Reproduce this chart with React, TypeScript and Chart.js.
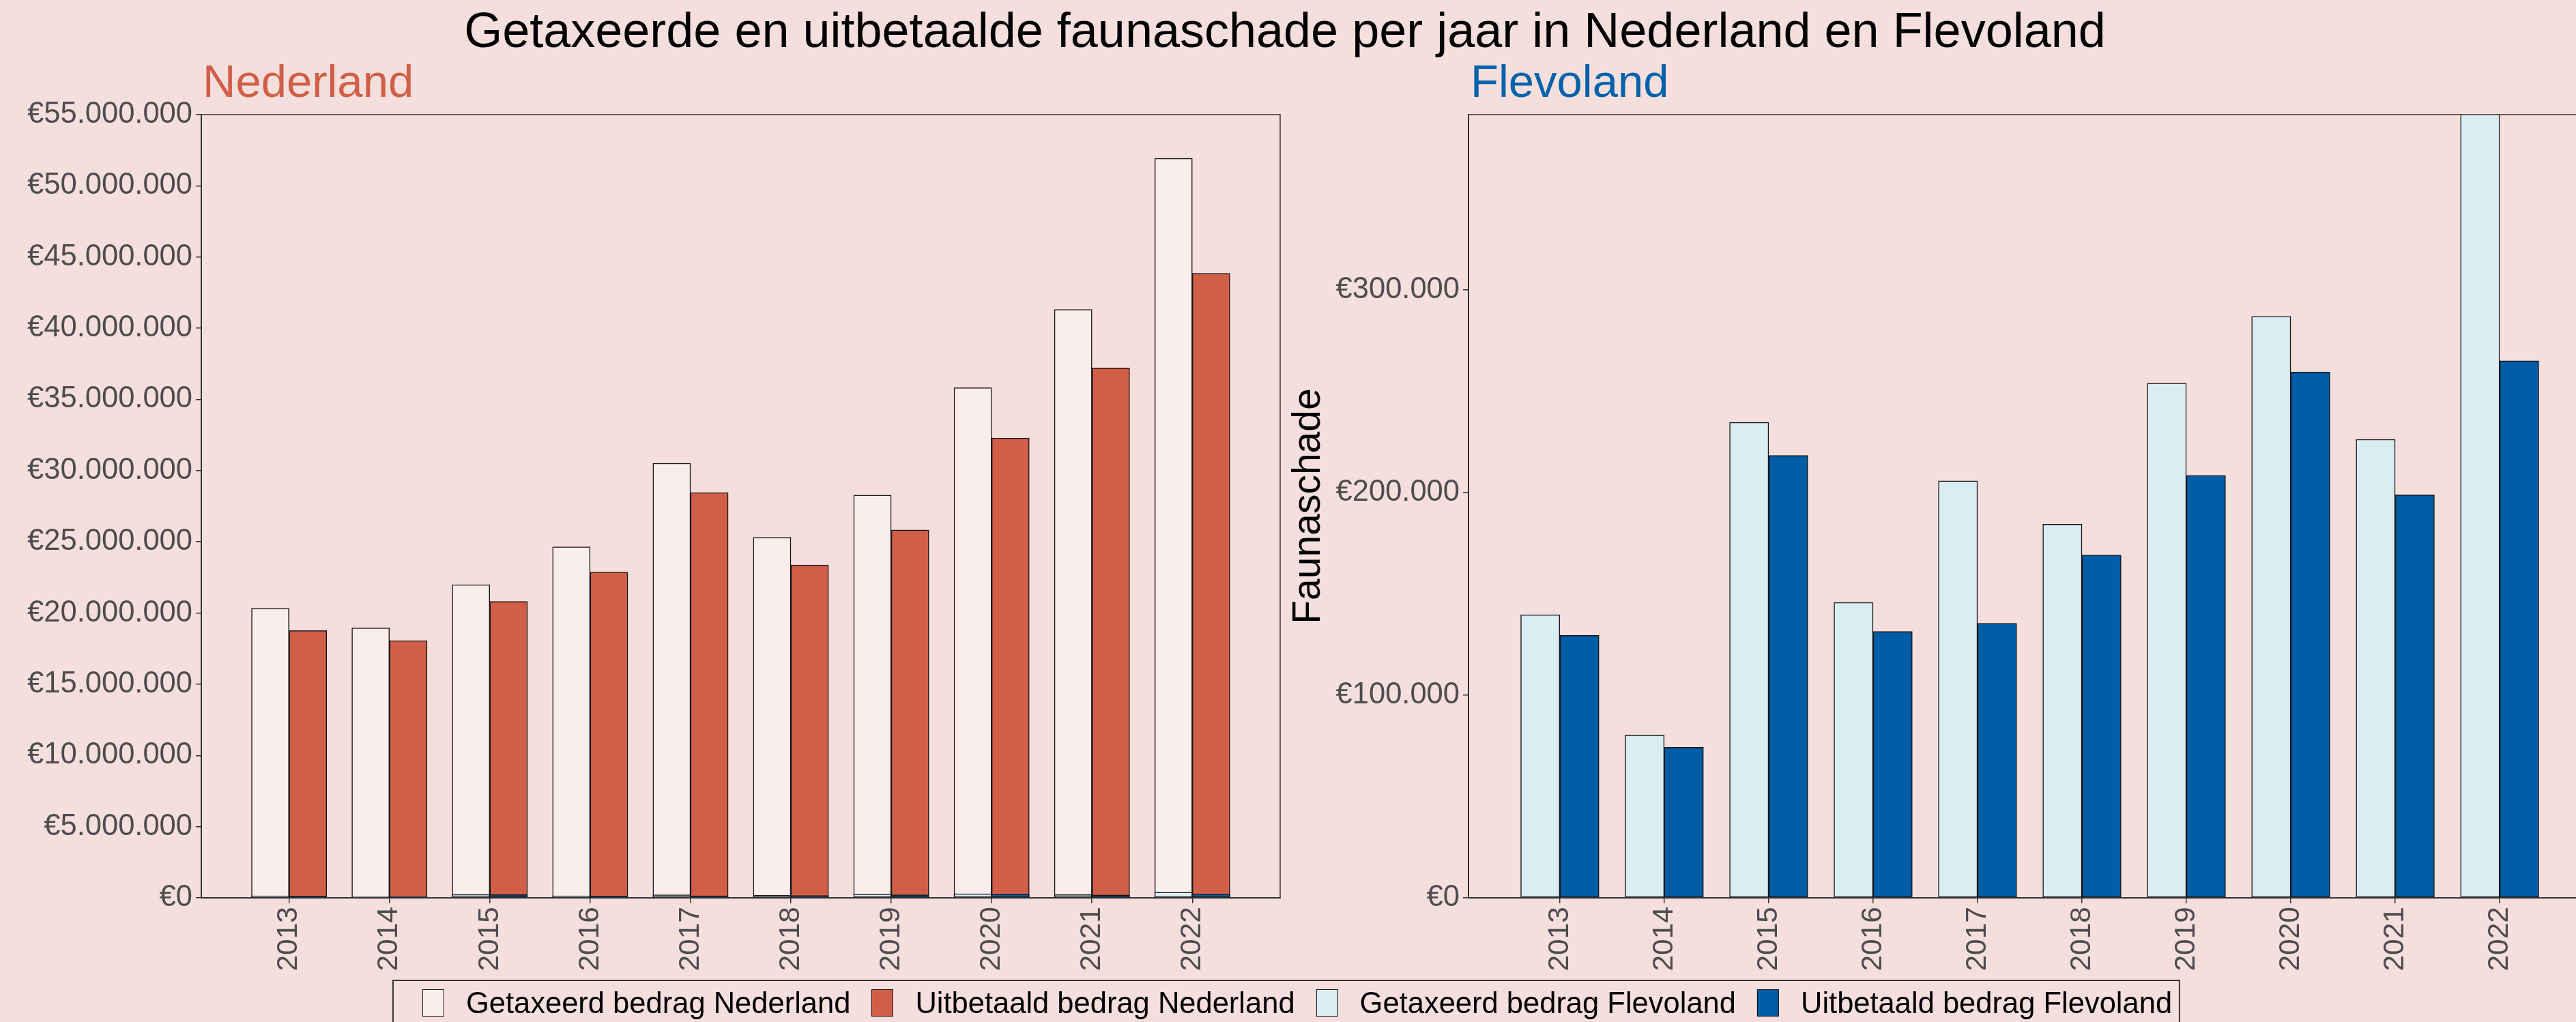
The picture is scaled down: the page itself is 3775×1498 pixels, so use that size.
import React, { useEffect, useRef } from 'react';
import { Chart, registerables } from 'chart.js';

Chart.register(...registerables);

// ---------- data ----------
const years = ['2013', '2014', '2015', '2016', '2017', '2018', '2019', '2020', '2021', '2022'];
const nlGetaxeerd = [20330000, 18960000, 21990000, 24640000, 30520000, 25320000, 28270000, 35820000, 41320000, 51930000];
const nlUitbetaald = [18770000, 18060000, 20810000, 22870000, 28460000, 23380000, 25830000, 32290000, 37210000, 43860000];
const flGetaxeerd = [139700, 80400, 234700, 145800, 205800, 184400, 254000, 287000, 226300, 390000];
const flUitbetaald = [129500, 74300, 218400, 131500, 135500, 169200, 208500, 259500, 198900, 265100];
const nlTicks = [0, 5000000, 10000000, 15000000, 20000000, 25000000, 30000000, 35000000, 40000000, 45000000, 50000000, 55000000];
const flTicks = [0, 100000, 200000, 300000];
const nlMax = 55000000;
const flMax = 386600;

const legendLabels = [
  'Getaxeerd bedrag Nederland',
  'Uitbetaald bedrag Nederland',
  'Getaxeerd bedrag Flevoland',
  'Uitbetaald bedrag Flevoland',
];

// ---------- style ----------
const BG = '#F4DFDD';
const NL_GET = '#FAEEEC';
const NL_UIT = '#D15F48';
const FL_GET = '#DAEDF3';
const FL_UIT = '#005DA6';
const FL_TITLE = '#0062AB';
const FONT = "'Liberation Sans', Arial, sans-serif";
const TICK_COLOR = '#4D4D4D';
const DODGE = 0.1875; // half of the dodge width (in category units)
const X_MIN = -0.875;
const X_MAX = 9.875;

const euro = (v: number) => '€' + Math.round(v).toString().replace(/\B(?=(\d{3})+(?!\d))/g, '.');

const framePlugin = {
  id: 'frame',
  afterDatasetsDraw(chart: any) {
    const { ctx, chartArea: a } = chart;
    ctx.save();
    ctx.strokeStyle = '#333333';
    ctx.lineWidth = 1.5;
    ctx.strokeRect(a.left, a.top, a.right - a.left, a.bottom - a.top);
    ctx.restore();
  },
};

function barSet(label: string, values: number[], offset: number, color: string) {
  return {
    label,
    data: values.map((v, i) => ({ x: i + offset, y: v })),
    backgroundColor: color,
    borderColor: '#151515',
    borderWidth: 1.5,
    borderSkipped: false as const,
    grouped: false,
    barPercentage: 1,
    categoryPercentage: 1,
  };
}

function xScale() {
  return {
    type: 'linear' as const,
    min: X_MIN,
    max: X_MAX,
    offset: false,
    afterBuildTicks: (s: any) => {
      s.ticks = years.map((_, i) => ({ value: i }));
    },
    afterFit: (s: any) => {
      s.height = 120;
    },
    ticks: {
      autoSkip: false,
      minRotation: 90,
      maxRotation: 90,
      padding: 5,
      color: TICK_COLOR,
      font: { family: FONT, size: 42.5 },
      callback: (_v: any, i: number) => years[i],
    },
    grid: { display: true, offset: false, drawOnChartArea: false, drawTicks: true, tickLength: 8, color: '#333333', lineWidth: 1.5 },
    border: { display: true, color: '#333333', width: 2 },
  };
}

function yScale(max: number, ticks: number[], width: number, title?: string) {
  return {
    type: 'linear' as const,
    min: 0,
    max,
    afterBuildTicks: (s: any) => {
      s.ticks = ticks.map((v) => ({ value: v }));
    },
    afterFit: (s: any) => {
      s.width = width;
    },
    ticks: {
      padding: 5,
      color: TICK_COLOR,
      font: { family: FONT, size: 43.5 },
      callback: (v: any) => euro(Number(v)),
    },
    title: title
      ? { display: true, text: title, color: '#000000', font: { family: FONT, size: 57 }, padding: { top: 4, bottom: 0 } }
      : { display: false },
    grid: { display: true, drawOnChartArea: false, drawTicks: true, tickLength: 8, color: '#333333', lineWidth: 1.5 },
    border: { display: true, color: '#333333', width: 2 },
  };
}

function baseOptions(padding: any, yOpts: any) {
  return {
    responsive: false,
    maintainAspectRatio: false,
    animation: false as const,
    layout: { padding },
    plugins: { legend: { display: false }, tooltip: { enabled: false }, title: { display: false } },
    scales: { x: xScale(), y: yOpts },
  };
}

const LEFT_W = 1900;
const RIGHT_LEFT = 1880;
const RIGHT_W = 1920;
const H = 1498;

export default function App() {
  const leftRef = useRef<HTMLCanvasElement>(null);
  const rightRef = useRef<HTMLCanvasElement>(null);

  useEffect(() => {
    const left = new Chart(leftRef.current as HTMLCanvasElement, {
      type: 'bar',
      data: {
        datasets: [
          barSet('Getaxeerd bedrag Flevoland', flGetaxeerd, -DODGE, FL_GET),
          barSet('Uitbetaald bedrag Flevoland', flUitbetaald, DODGE, FL_UIT),
          barSet('Getaxeerd bedrag Nederland', nlGetaxeerd, -DODGE, NL_GET),
          barSet('Uitbetaald bedrag Nederland', nlUitbetaald, DODGE, NL_UIT),
        ] as any,
      },
      options: baseOptions({ top: 168, right: 24, bottom: 62, left: 0 }, yScale(nlMax, nlTicks, 295)) as any,
      plugins: [framePlugin],
    });
    const right = new Chart(rightRef.current as HTMLCanvasElement, {
      type: 'bar',
      data: {
        datasets: [
          barSet('Getaxeerd bedrag Flevoland', flGetaxeerd, -DODGE, FL_GET),
          barSet('Uitbetaald bedrag Flevoland', flUitbetaald, DODGE, FL_UIT),
        ] as any,
      },
      options: baseOptions({ top: 168, right: 3, bottom: 62, left: 0 }, yScale(flMax, flTicks, 272, 'Faunaschade')) as any,
      plugins: [framePlugin],
    });
    return () => {
      left.destroy();
      right.destroy();
    };
  }, []);

  const keyColors = [NL_GET, NL_UIT, FL_GET, FL_UIT];

  return (
    <div
      style={{
        position: 'absolute',
        left: 0,
        top: 0,
        width: 3775,
        height: H,
        overflow: 'hidden',
        background: BG,
        fontFamily: FONT,
      }}
    >
      <canvas ref={leftRef} width={LEFT_W} height={H} style={{ position: 'absolute', left: 0, top: 0, width: LEFT_W, height: H }} />
      <canvas
        ref={rightRef}
        width={RIGHT_W}
        height={H}
        style={{ position: 'absolute', left: RIGHT_LEFT, top: 0, width: RIGHT_W, height: H }}
      />
      <div
        style={{
          position: 'absolute',
          left: 0,
          top: 8,
          width: 3766,
          textAlign: 'center',
          fontSize: 72,
          lineHeight: '72px',
          color: '#000',
          whiteSpace: 'nowrap',
        }}
      >
        Getaxeerde en uitbetaalde faunaschade per jaar in Nederland en Flevoland
      </div>
      <div style={{ position: 'absolute', left: 297, top: 85, fontSize: 67, lineHeight: '67px', color: NL_UIT, whiteSpace: 'nowrap' }}>
        Nederland
      </div>
      <div style={{ position: 'absolute', left: 2155, top: 85, fontSize: 67, lineHeight: '67px', color: FL_TITLE, whiteSpace: 'nowrap' }}>
        Flevoland
      </div>
      <div
        style={{
          position: 'absolute',
          left: 1885,
          top: 1436,
          transform: 'translateX(-50%)',
          height: 120,
          border: '2px solid #333',
          boxSizing: 'border-box',
          display: 'flex',
          alignItems: 'flex-start',
          padding: '12px 10px 0 42px',
          whiteSpace: 'nowrap',
        }}
      >
        {legendLabels.map((lab, i) => (
          <div key={lab} style={{ display: 'flex', alignItems: 'center', marginRight: i < legendLabels.length - 1 ? 31 : 0 }}>
            <div
              style={{
                width: 32,
                height: 40,
                background: keyColors[i],
                border: '1.5px solid #151515',
                boxSizing: 'border-box',
                marginRight: 32,
              }}
            />
            <span style={{ fontSize: 43.5, lineHeight: '40px', color: '#000' }}>{lab}</span>
          </div>
        ))}
      </div>
    </div>
  );
}
